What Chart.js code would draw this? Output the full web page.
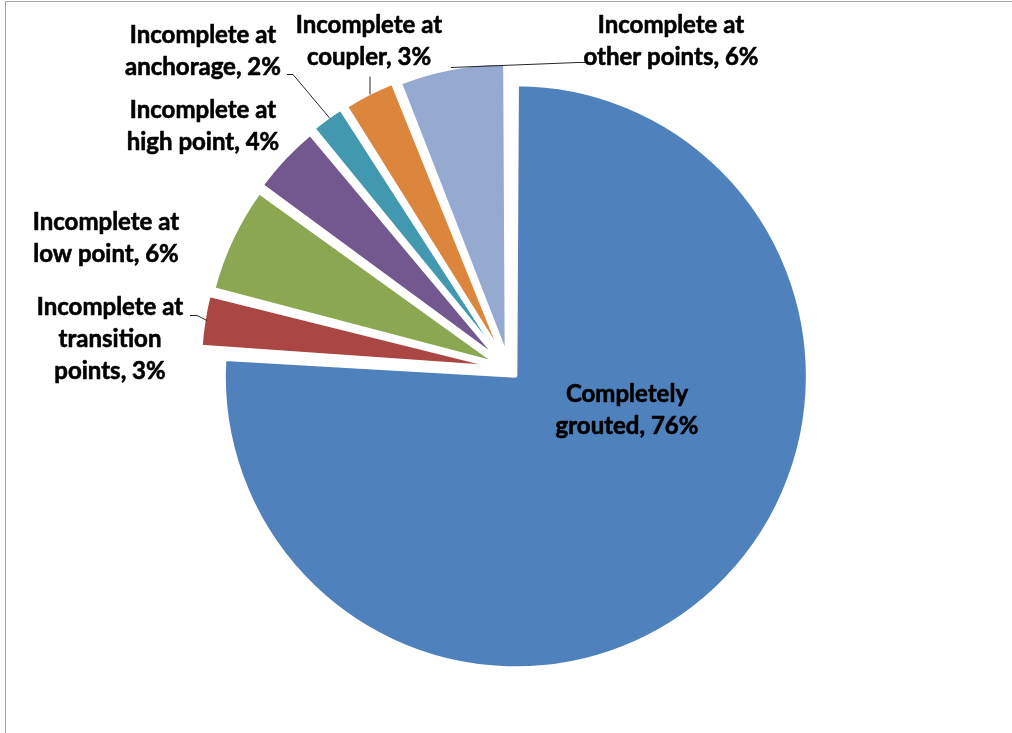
<!DOCTYPE html>
<html>
<head>
<meta charset="utf-8">
<title>Grouting condition of tendons</title>
<script src="https://cdn.jsdelivr.net/npm/chart.js@4/dist/chart.umd.min.js"></script>
<style>
  body { margin: 0; background: #fff; }
  #frame {
    position: absolute; left: 5px; top: 1px; width: 1007px; height: 732px;
    border-left: 1px solid #a6a6a6; border-top: 1px solid #a6a6a6;
  }
  #pieChart { position: absolute; left: 0; top: 0; }
</style>
</head>
<body>
<div id="frame"></div>
<canvas id="pieChart" width="1012" height="733"></canvas>
<script>
// categories, clockwise from 12 o'clock
var categories = [
  'Completely\ngrouted',
  'Incomplete at\ntransition\npoints',
  'Incomplete at\nlow point',
  'Incomplete at\nhigh point',
  'Incomplete at\nanchorage',
  'Incomplete at\ncoupler',
  'Incomplete at\nother points'
];
var percents = [76, 3, 6, 4, 2, 3, 6];

var colors = ['#4F81BD', '#AA4643', '#8BA751', '#72588F', '#4299AF', '#DC853D', '#95A9D1'];

// where each data label sits (x centre, first baseline) and its leader line
var labelSpots = [
  { x: 627, y: 402 },
  { x: 110, y: 315, leader: [[190, 315], [197, 315], [207, 320]] },
  { x: 106, y: 230 },
  { x: 203, y: 118 },
  { x: 203, y: 43,  leader: [[287, 74], [293, 74], [330, 118]] },
  { x: 369, y: 33,  leader: [[370, 76], [370, 94]] },
  { x: 671, y: 33,  leader: [[451, 67], [578, 62], [585, 62]] }
];
var lineHeight = 32;

var dataLabels = {
  id: 'dataLabels',
  afterDraw: function(chart) {
    var ctx = chart.ctx;
    ctx.save();

    // leader lines
    ctx.strokeStyle = '#262626';
    ctx.lineWidth = 1;
    labelSpots.forEach(function(spot) {
      if (!spot.leader) return;
      ctx.beginPath();
      spot.leader.forEach(function(p, i) {
        if (i === 0) ctx.moveTo(p[0], p[1] + 0.5);
        else ctx.lineTo(p[0], p[1] + 0.5);
      });
      ctx.stroke();
    });

    // labels: bold text, slightly thickened with a thin outline
    ctx.fillStyle = '#000';
    ctx.strokeStyle = '#000';
    ctx.lineWidth = 0.6;
    ctx.lineJoin = 'round';
    ctx.font = 'bold 24px Lato';
    ctx.textAlign = 'center';
    ctx.textBaseline = 'alphabetic';
    categories.forEach(function(cat, i) {
      var lines = (cat + ', ' + percents[i] + '%').split('\n');
      lines.forEach(function(line, j) {
        var y = labelSpots[i].y + j * lineHeight;
        ctx.fillText(line, labelSpots[i].x, y);
        ctx.strokeText(line, labelSpots[i].x, y);
      });
    });
    ctx.restore();
  }
};

var ctx = document.getElementById('pieChart');
var pieChart = new Chart(ctx, {
  type: 'pie',
  data: {
    labels: categories,
    datasets: [{
      data: percents,
      backgroundColor: colors,
      borderColor: '#ffffff',
      borderWidth: 3,
      offset: [40, 60, 60, 60, 60, 60, 60],
      radius: 281.5
    }]
  },
  options: {
    responsive: false,
    animation: false,
    layout: { padding: { left: 6, top: 5, right: 0, bottom: 0 } },
    plugins: {
      legend: { display: false },
      tooltip: { enabled: false }
    }
  },
  plugins: [dataLabels]
});
</script>
</body>
</html>
